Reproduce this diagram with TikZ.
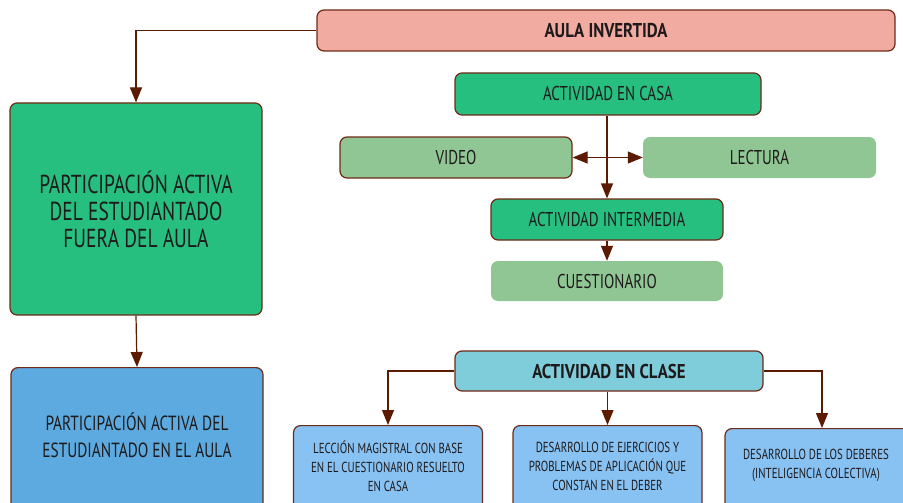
\documentclass[tikz,border=0pt]{standalone}
\usepackage{fontspec}
\setmainfont[FakeStretch=0.75]{PT Sans}
\newfontfamily\boldfam[FakeStretch=0.84]{PT Sans}
\usetikzlibrary{arrows.meta}
\definecolor{salmon}{HTML}{F2ABA1}
\definecolor{gr}{HTML}{27BF80}
\definecolor{lgr}{HTML}{90C594}
\definecolor{cy}{HTML}{7FCDDA}
\definecolor{bl}{HTML}{5CAADF}
\definecolor{lbl}{HTML}{88C2F2}
\definecolor{bord}{HTML}{6E2A17}
\definecolor{arrc}{HTML}{5C1A00}
\definecolor{txt}{HTML}{1E1A1B}
\tikzset{
  box/.style={draw=bord, line width=1.2pt, rounded corners=7pt, text=txt, align=center, inner sep=0pt},
  nobox/.style={rounded corners=7pt, text=txt, align=center, inner sep=0pt},
  lbl/.style={text=txt, align=center, inner sep=0pt},
  mid/.style={font=\fontsize{20}{22}\selectfont},
  bold/.style={font=\fontsize{20}{22}\selectfont\boldfam\bfseries},
  small/.style={font=\fontsize{14.5}{19}\selectfont},
  arr/.style={draw=arrc, line width=1.2pt, -{Triangle[length=15pt,width=12pt]}},
  arrtwo/.style={draw=arrc, line width=1.2pt, {Triangle[length=15pt,width=12pt]}-{Triangle[length=15pt,width=12pt]}},
}
\begin{document}
\begin{tikzpicture}[x=1pt,y=-1pt]
\clip (0,0) rectangle (903,503);
\useasboundingbox (0,0) rectangle (903,503);
% top
\node[box, fill=salmon, minimum width=578pt, minimum height=41pt, bold] (aula) at (606,30.5) {AULA INVERTIDA};
\node[box, fill=gr, minimum width=252pt, minimum height=212pt, font=\fontsize{26}{27}\selectfont] (big) at (136,209) {PARTICIPACIÓN ACTIVA\\DEL ESTUDIANTADO\\FUERA DEL AULA};
\node[box, fill=bl, minimum width=252pt, minimum height=160pt, anchor=north] (blue) at (137,367) {};
\node[lbl, font=\fontsize{20.5}{27}\selectfont] (bluet) at (137,435) {PARTICIPACIÓN ACTIVA DEL\\ESTUDIANTADO EN EL AULA};
% casa
\node[box, fill=gr, minimum width=306pt, minimum height=42pt, mid] (casa) at (608,94) {ACTIVIDAD EN CASA};
\node[box, fill=lgr, minimum width=232pt, minimum height=41pt, mid] (video) at (456,157.5) {VIDEO};
\node[nobox, fill=lgr, minimum width=233pt, minimum height=41pt, mid] (lect) at (759.5,157.5) {LECTURA};
\node[box, fill=gr, minimum width=232pt, minimum height=41pt, mid] (inter) at (607,219.5) {ACTIVIDAD INTERMEDIA};
\node[nobox, fill=lgr, minimum width=232pt, minimum height=40pt, mid] (cuest) at (607,281) {CUESTIONARIO};
% clase
\node[box, fill=cy, minimum width=308pt, minimum height=40pt, bold] (clase) at (609,371) {ACTIVIDAD EN CLASE};
\node[box, fill=lbl, minimum width=189pt, minimum height=95pt, anchor=north] (lec) at (388,425) {};
\node[lbl, small] (lect2) at (388,466) {LECCIÓN MAGISTRAL CON BASE\\EN EL CUESTIONARIO RESUELTO\\EN CASA};
\node[box, fill=lbl, minimum width=189pt, minimum height=95pt, anchor=north] (ejer) at (607.5,425) {};
\node[lbl, small] (ejert) at (607.5,466) {DESARROLLO DE EJERCICIOS Y\\PROBLEMAS DE APLICACIÓN QUE\\CONSTAN EN EL DEBER};
\node[box, fill=lbl, minimum width=194pt, minimum height=95pt, anchor=north] (deb) at (822,428) {};
\node[lbl, small] (debt) at (816,465) {DESARROLLO DE LOS DEBERES\\(INTELIGENCIA COLECTIVA)};
% connectors
\draw[arr] (aula.west) -| (big.north);
\draw[arr] (big.south) -- (blue.north);
\coordinate (cs) at (casa.south -| inter.north);
\draw[arr] (cs) -- (inter.north);
\draw[arrtwo] (video.east) -- (lect.west);
\draw[arr] (inter.south) -- (cuest.north);
\draw[arr] (clase.west) -| (lec.north);
\draw[arr] (clase.south -| ejer.north) -- (ejer.north);
\draw[arr] (clase.east) -| (deb.north);
\end{tikzpicture}
\end{document}
